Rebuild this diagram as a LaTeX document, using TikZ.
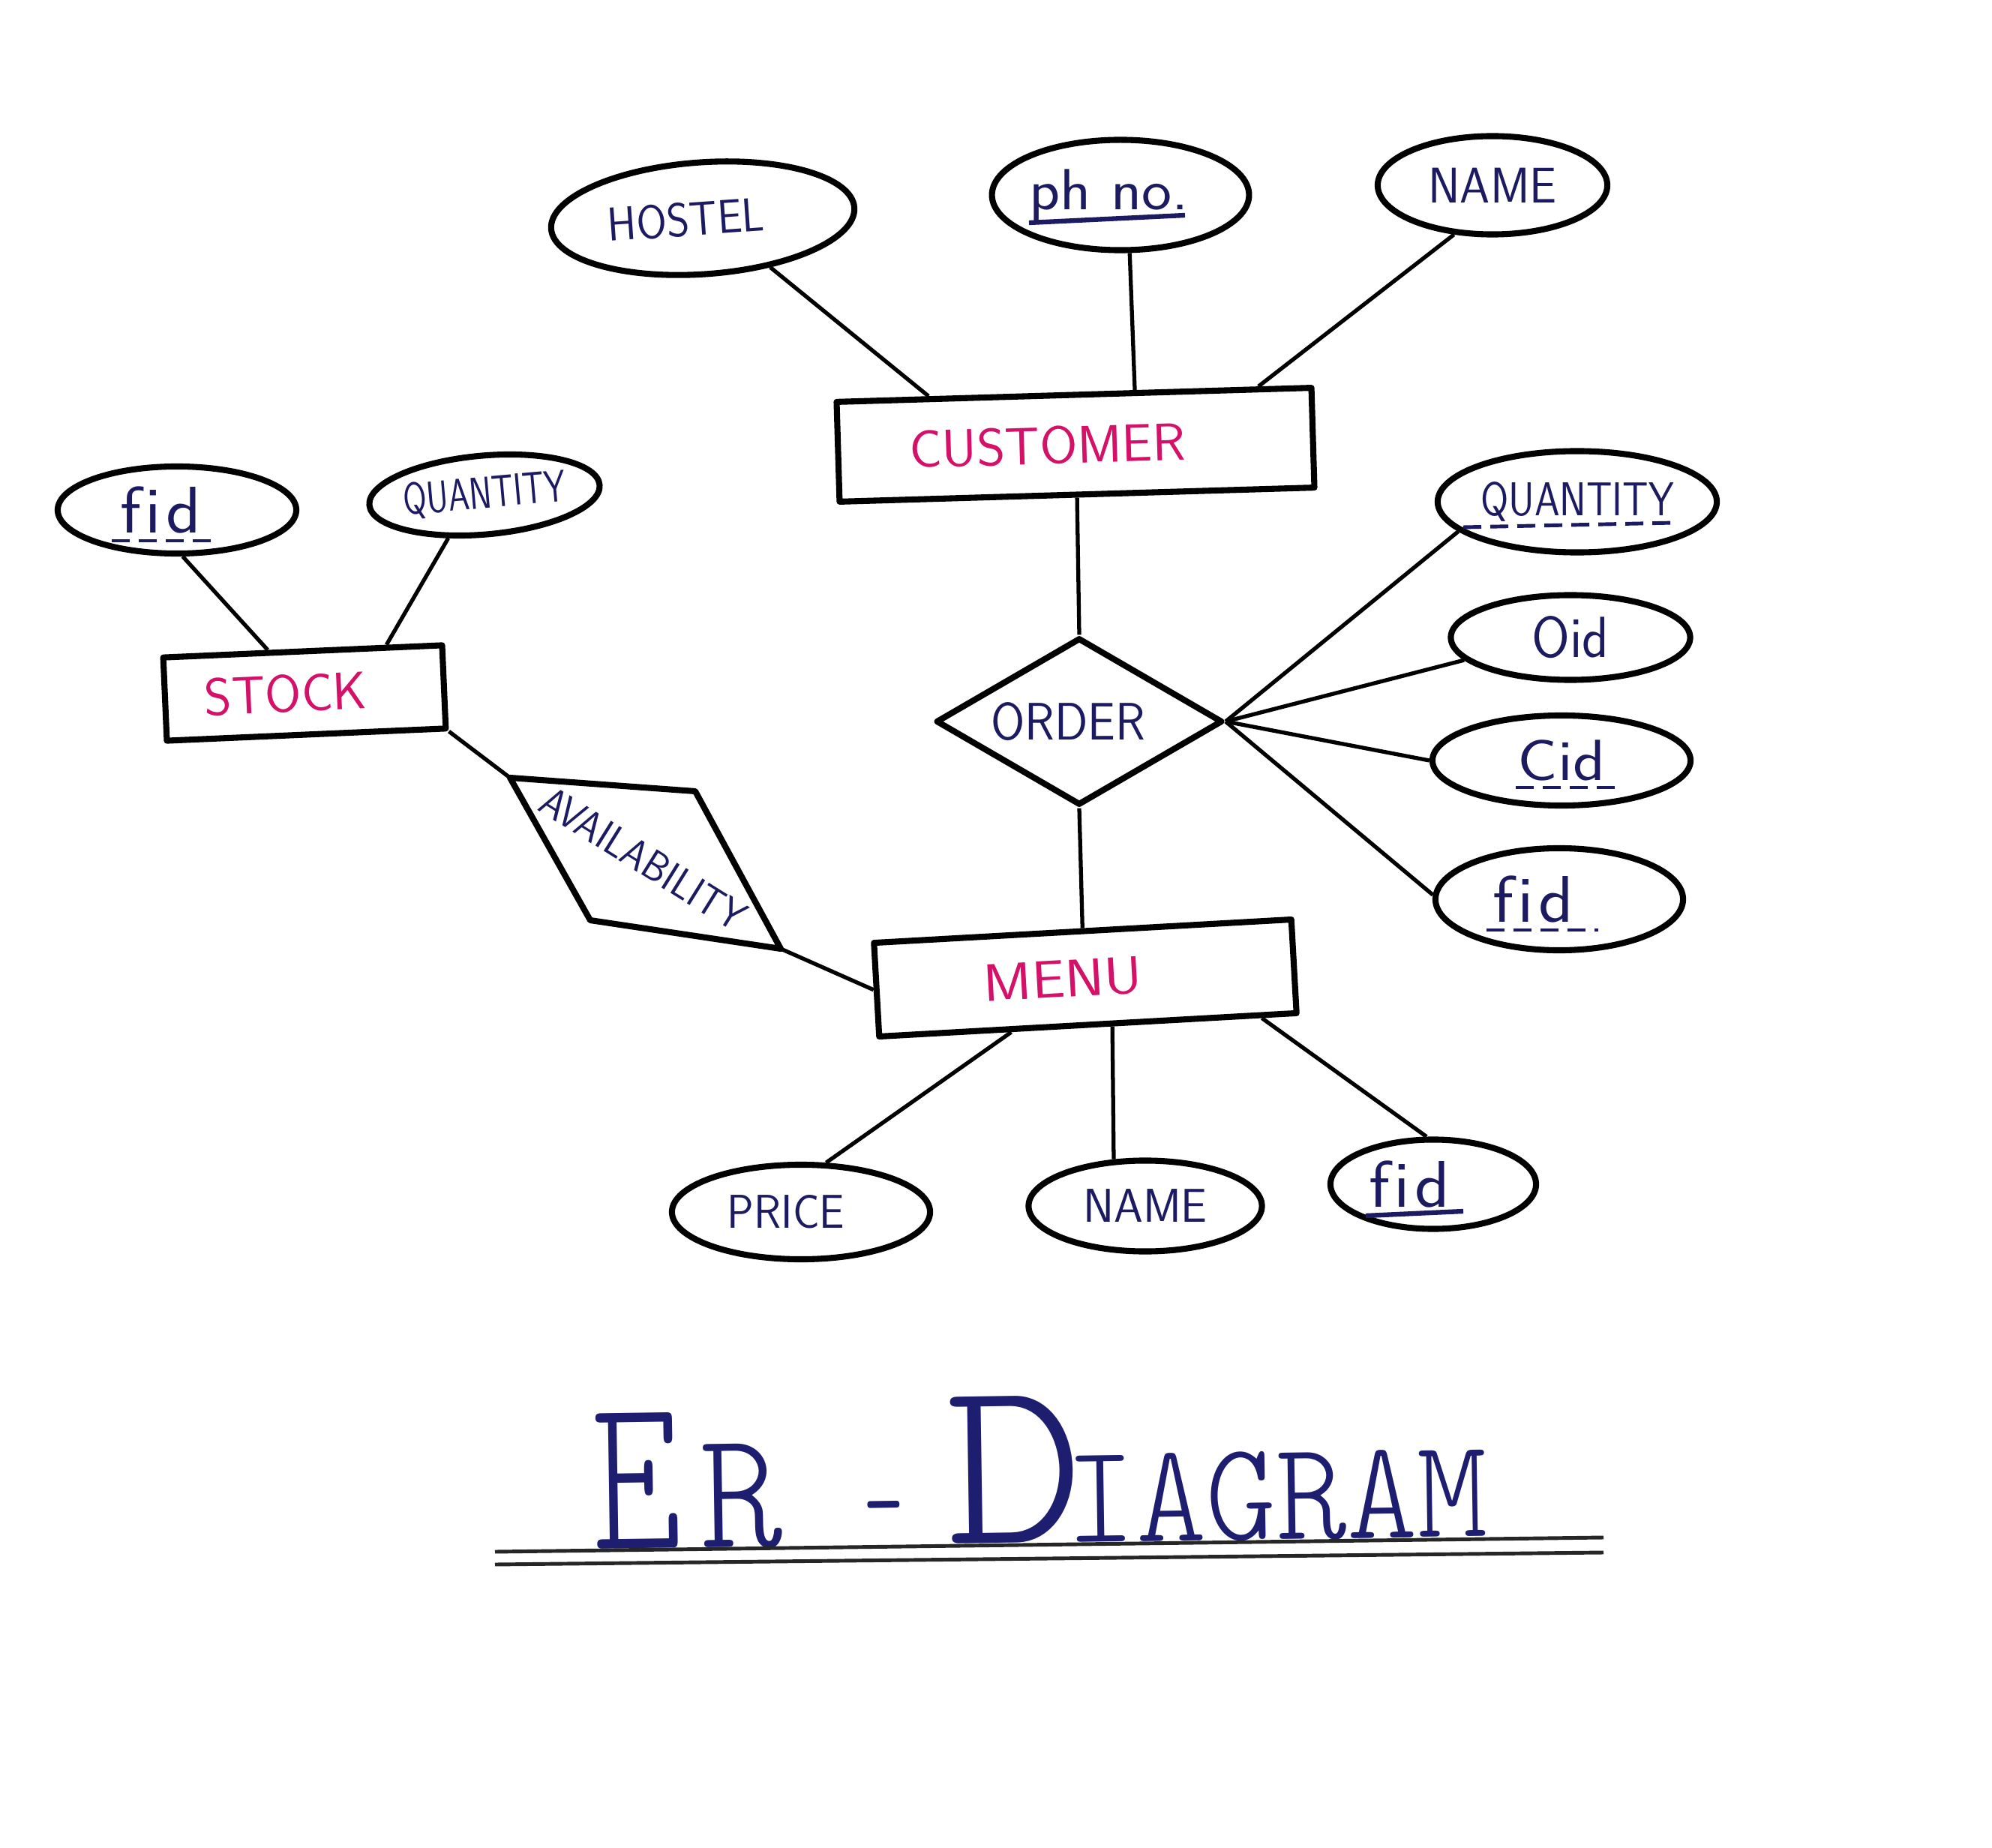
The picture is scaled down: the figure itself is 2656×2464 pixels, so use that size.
\documentclass[tikz,border=0pt]{standalone}
\usepackage{fontspec}
\usepackage{graphicx}
\usetikzlibrary{shapes.geometric,calc}
\newfontfamily\titlefont{lmmonolt10-regular.otf}
\definecolor{entcol}{RGB}{212,16,104}
\definecolor{attcol}{RGB}{28,26,96}
\definecolor{titcol}{RGB}{30,30,112}
\newcommand\cnd[2]{\scalebox{#1}[1]{#2}}
\newcommand\lsh[1]{\hspace{#1}\mbox{}}
\newcommand\fidtext{\cnd{1.1}{f\kern1.5pt i\kern1.5pt d}}
\newcommand\tfs[1]{\fontsize{#1}{#1}\selectfont}
\begin{document}
\begin{tikzpicture}[x=0.01cm,y=-0.01cm,
  shapeline/.style={draw=black, line width=2.3pt, line join=round},
  entity/.style={shapeline, rectangle, inner sep=0pt, text=entcol, font=\sffamily\fontsize{20pt}{20pt}\selectfont},
  attr/.style={shapeline, ellipse, inner sep=0pt, text=attcol, font=\sffamily\fontsize{18pt}{18pt}\selectfont},
  keyattr/.style={attr, font=\sffamily\fontsize{22pt}{22pt}\selectfont},
  fidattr/.style={attr, font=\sffamily\fontsize{25pt}{25pt}\selectfont},
  relation/.style={shapeline, diamond, aspect=1.7, inner sep=0pt, text=attcol, font=\sffamily\fontsize{20pt}{20pt}\selectfont},
  conn/.style={draw=black, line width=1.5pt},
  solidul/.style={draw=attcol, line width=1.8pt},
  dashul/.style={draw=attcol, line width=1.4pt, dash pattern=on 0.24cm off 0.12cm},
  titleline/.style={draw=black!85, line width=1.4pt}
]
\useasboundingbox (0,0) rectangle (2656,2464);
\fill[white] (0,0) rectangle (2656,2464);

% entities
\node[entity, minimum width=6.33cm, minimum height=1.33cm, rotate=1.7] (cust) at (1434,593) {\cnd{1.03}{CUSTOMER}\lsh{0.75cm}};
\node[entity, minimum width=3.72cm, minimum height=1.11cm, rotate=2.5] (stock) at (406,924) {\cnd{0.99}{STOCK}\lsh{0.5cm}};
\node[entity, minimum width=5.57cm, minimum height=1.25cm, rotate=3.2] (menu) at (1447,1304) {\cnd{1.12}{MENU}\lsh{0.6cm}};

% relationships
\node[relation, minimum width=3.82cm, minimum height=2.23cm] (order) at (1439,962) {\cnd{0.93}{ORDER}\lsh{0.3cm}};
\coordinate (av1) at (680,1037);
\coordinate (av2) at (927,1055);
\coordinate (av3) at (1041,1265);
\coordinate (av4) at (787,1227);
\draw[shapeline] (av1) -- (av2) -- (av3) -- (av4) -- cycle;
\node[rotate=-32, inner sep=0pt, text=attcol, font=\sffamily\fontsize{16pt}{16pt}\selectfont] (avail) at (858,1145) {\cnd{0.92}{AVAILABILITY}};

% customer attributes
\node[attr, minimum width=4.05cm, minimum height=1.49cm, rotate=4] (hostel) at (937,291) {\cnd{0.92}{HOSTEL}\lsh{0.45cm}};
\node[keyattr, minimum width=3.41cm, minimum height=1.47cm] (phno) at (1494,260) {\cnd{1.1}{ph no.}\lsh{0.3cm}};
\node[attr, minimum width=3.06cm, minimum height=1.31cm, font=\sffamily\fontsize{19pt}{19pt}\selectfont] (cname) at (1990,247) {\cnd{0.96}{NAME}};

% stock attributes
\node[fidattr, minimum width=3.18cm, minimum height=1.16cm] (sfid) at (236,680) {\fidtext\lsh{0.44cm}};
\node[attr, minimum width=3.08cm, minimum height=1.05cm, rotate=5, font=\sffamily\fontsize{17pt}{17pt}\selectfont] (squant) at (646,660) {\cnd{0.76}{QUANTITY}};

% order attributes
\node[attr, minimum width=3.72cm, minimum height=1.35cm] (oquant) at (2103,669) {\cnd{0.85}{QUANTITY}};
\node[keyattr, minimum width=3.19cm, minimum height=1.13cm] (oid) at (2094,850) {\cnd{0.95}{Oid}};
\node[keyattr, minimum width=3.44cm, minimum height=1.20cm] (cid) at (2082,1014) {\cnd{1.15}{Cid}};
\node[fidattr, minimum width=3.30cm, minimum height=1.36cm] (ofid) at (2079,1199) {\fidtext\lsh{0.7cm}};

% menu attributes
\node[attr, minimum width=3.44cm, minimum height=1.26cm] (price) at (1068,1616) {\cnd{0.94}{PRICE}\lsh{0.4cm}};
\node[attr, minimum width=3.11cm, minimum height=1.21cm] (mname) at (1527,1608) {\cnd{0.98}{NAME}};
\node[fidattr, minimum width=2.74cm, minimum height=1.19cm] (mfid) at (1911,1579) {\fidtext\lsh{0.64cm}};

% underlines of key attributes
\draw[solidul] ($(phno)+(-122,37)$) -- ($(phno)+(86,27)$);
\draw[dashul] ($(sfid)+(-87,41)$) -- ($(sfid)+(56,41)$);
\draw[dashul] ($(oquant)+(-152,34)$) -- ($(oquant)+(130,28)$);
\draw[dashul] ($(cid)+(-61,36)$) -- ($(cid)+(83,36)$);
\draw[dashul] ($(ofid)+(-97,41)$) -- ($(ofid)+(52,41)$);
\draw[solidul] ($(mfid)+(-90,42)$) -- ($(mfid)+(40,36)$);

% connectors
\draw[conn] (hostel.-40) -- (cust.160);
\draw[conn] (phno.-81) -- (cust.41);
\draw[conn] (cname.-128) -- (cust.16);
\draw[conn] (cust.south) -- (order.north);
\draw[conn] (order.south) -- (menu.north);
\draw[conn] (order.east) -- (oquant.-166);
\draw[conn] (order.east) -- (oid.-168);
\draw[conn] (order.east) -- (cid.west);
\draw[conn] (order.east) -- (ofid.178);
\draw[conn] (sfid.-83) -- (stock.128);
\draw[conn] (squant.-135) -- (stock.28);
\draw[conn] (stock.south east) -- (av1);
\draw[conn] (av3) -- (menu.west);
\draw[conn] (menu.-147) -- (price.63);
\draw[conn] (menu.-64) -- (mname.124);
\draw[conn] (menu.-16.5) -- (mfid.98);

% title
\node[anchor=base west, inner sep=0pt, text=titcol, rotate=0.85, font=\titlefont] (title) at (790,2066)
  {\tfs{84pt}\cnd{0.77}{E}\hspace{0.24cm}\tfs{64pt}\cnd{0.93}{R}\hspace{1.07cm}\tfs{50pt}\cnd{0.6}{-}\hspace{0.56cm}\tfs{91pt}\cnd{1.1}{D}\hspace{-0.26cm}\tfs{53.5pt}\cnd{0.95}{IAGRAM}};
\coordinate (ula1) at (660,2069);
\coordinate (ula2) at (2138,2050);
\coordinate (ulb1) at (660,2086);
\coordinate (ulb2) at (2138,2070);
\draw[titleline] (ula1) -- (ula2);
\draw[titleline] (ulb1) -- (ulb2);
\end{tikzpicture}
\end{document}
